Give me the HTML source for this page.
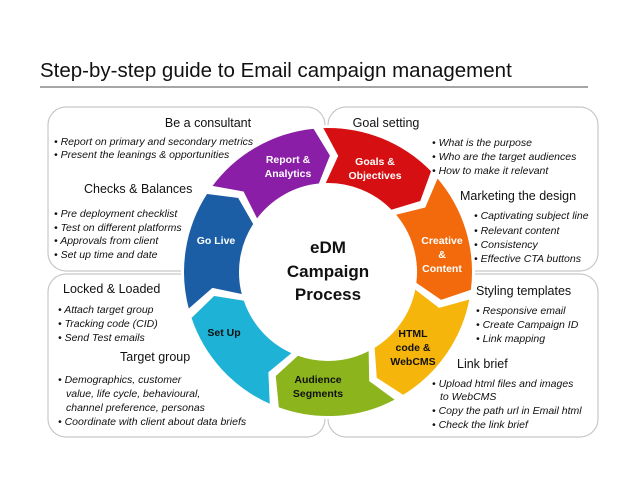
<!DOCTYPE html>
<html><head><meta charset="utf-8"><style>
html,body{margin:0;padding:0;background:#fff;}
svg{display:block;font-family:"Liberation Sans",Arial,sans-serif;}
.h{font-size:12.5px;fill:#111;}
.b{font-size:10.5px;font-style:italic;fill:#111;}
.s{font-size:10.5px;font-weight:bold;fill:#fff;text-anchor:middle;}
.d{fill:#111;}
</style></head><body>
<svg id="s" width="638" height="493" viewBox="0 0 638 493" xmlns="http://www.w3.org/2000/svg">
<text x="40" y="77" font-size="20.5" fill="#111">Step-by-step guide to Email campaign management</text>
<line x1="40" y1="87" x2="588" y2="87" stroke="#888" stroke-width="1.5"/>
<g fill="#fff" stroke="#c8c8c8" stroke-width="1.2">
<rect x="48" y="107" width="277" height="164" rx="18"/>
<rect x="328" y="107" width="270" height="164" rx="18"/>
<rect x="48" y="274" width="277" height="163" rx="18"/>
<rect x="328" y="274" width="270" height="163" rx="18"/>
</g>
<circle cx="328" cy="272" r="147" fill="#fff"/>
<g id="ring"></g>
<text x="328" y="253" font-size="17" font-weight="bold" text-anchor="middle" class="d">eDM</text>
<text x="328" y="277" font-size="17" font-weight="bold" text-anchor="middle" class="d">Campaign</text>
<text x="328" y="300" font-size="17" font-weight="bold" text-anchor="middle" class="d">Process</text>
<text class="s" x="288" y="163">Report &amp;</text><text class="s" x="288" y="177">Analytics</text>
<text class="s" x="375" y="165">Goals &amp;</text><text class="s" x="375" y="179">Objectives</text>
<text class="s" x="442" y="244">Creative</text><text class="s" x="442" y="258">&amp;</text><text class="s" x="442" y="272">Content</text>
<text class="s" x="413" y="337" style="fill:#111">HTML</text><text class="s" x="413" y="351" style="fill:#111">code &amp;</text><text class="s" x="413" y="365" style="fill:#111">WebCMS</text>
<text class="s" x="318" y="383" style="fill:#111">Audience</text><text class="s" x="318" y="397" style="fill:#111">Segments</text>
<text class="s" x="224" y="336" style="fill:#111">Set Up</text>
<text class="s" x="216" y="244">Go Live</text>

<text class="h" x="208" y="127" text-anchor="middle">Be a consultant</text>
<text class="b" x="54" y="145">• Report on primary and secondary metrics</text>
<text class="b" x="54" y="158">• Present the leanings &amp; opportunities</text>
<text class="h" x="84" y="193">Checks &amp; Balances</text>
<text class="b" x="54" y="217">• Pre deployment checklist</text>
<text class="b" x="54" y="231">• Test on different platforms</text>
<text class="b" x="54" y="244">• Approvals from client</text>
<text class="b" x="54" y="258">• Set up time and date</text>

<text class="h" x="386" y="127" text-anchor="middle">Goal setting</text>
<text class="b" x="432" y="146">• What is the purpose</text>
<text class="b" x="432" y="160">• Who are the target audiences</text>
<text class="b" x="432" y="174">• How to make it relevant</text>
<text class="h" x="460" y="200">Marketing the design</text>
<text class="b" x="474" y="219">• Captivating subject line</text>
<text class="b" x="474" y="234">• Relevant content</text>
<text class="b" x="474" y="248">• Consistency</text>
<text class="b" x="474" y="262">• Effective CTA buttons</text>

<text class="h" x="63" y="293">Locked &amp; Loaded</text>
<text class="b" x="58" y="313">• Attach target group</text>
<text class="b" x="58" y="327">• Tracking code (CID)</text>
<text class="b" x="58" y="341">• Send Test emails</text>
<text class="h" x="120" y="361">Target group</text>
<text class="b" x="58" y="383">• Demographics, customer</text>
<text class="b" x="66" y="397">value, life cycle, behavioural,</text>
<text class="b" x="66" y="411">channel preference, personas</text>
<text class="b" x="58" y="425">• Coordinate with client about data briefs</text>

<text class="h" x="476" y="295">Styling templates</text>
<text class="b" x="476" y="314">• Responsive email</text>
<text class="b" x="476" y="328">• Create Campaign ID</text>
<text class="b" x="476" y="342">• Link mapping</text>
<text class="h" x="457" y="368">Link brief</text>
<text class="b" x="432" y="387">• Upload html files and images</text>
<text class="b" x="440" y="400">to WebCMS</text>
<text class="b" x="432" y="414">• Copy the path url in Email html</text>
<text class="b" x="432" y="428">• Check the link brief</text>
</svg>
<script>
(function(){
var cx=328,cy=272,R=145,r=88,m=(R+r)/2,d=7;
var cols=["#d50f12","#f26a0c","#f6b50a","#8cb41d","#1db2d6","#1b5ea6","#8a1ea6"];
function p(rad,a){a=(a-90)*Math.PI/180;return (cx+rad*Math.cos(a)).toFixed(1)+","+(cy+rad*Math.sin(a)).toFixed(1);}
var g=document.getElementById("ring"),h="";
for(var k=0;k<7;k++){
var a0=-4+k*360/7+1.5,a1=-4+(k+1)*360/7-1.5;
var dd="M"+p(R,a0)+" A"+R+","+R+" 0 0 1 "+p(R,a1)+" L"+p(m,a1+d)+" L"+p(r,a1)+" A"+r+","+r+" 0 0 0 "+p(r,a0)+" L"+p(m,a0+d)+" Z";
h+='<path d="'+dd+'" fill="'+cols[k]+'" stroke="#fff" stroke-width="2" stroke-linejoin="miter"/>';
}
g.innerHTML=h;
})();
</script>
</body></html>
